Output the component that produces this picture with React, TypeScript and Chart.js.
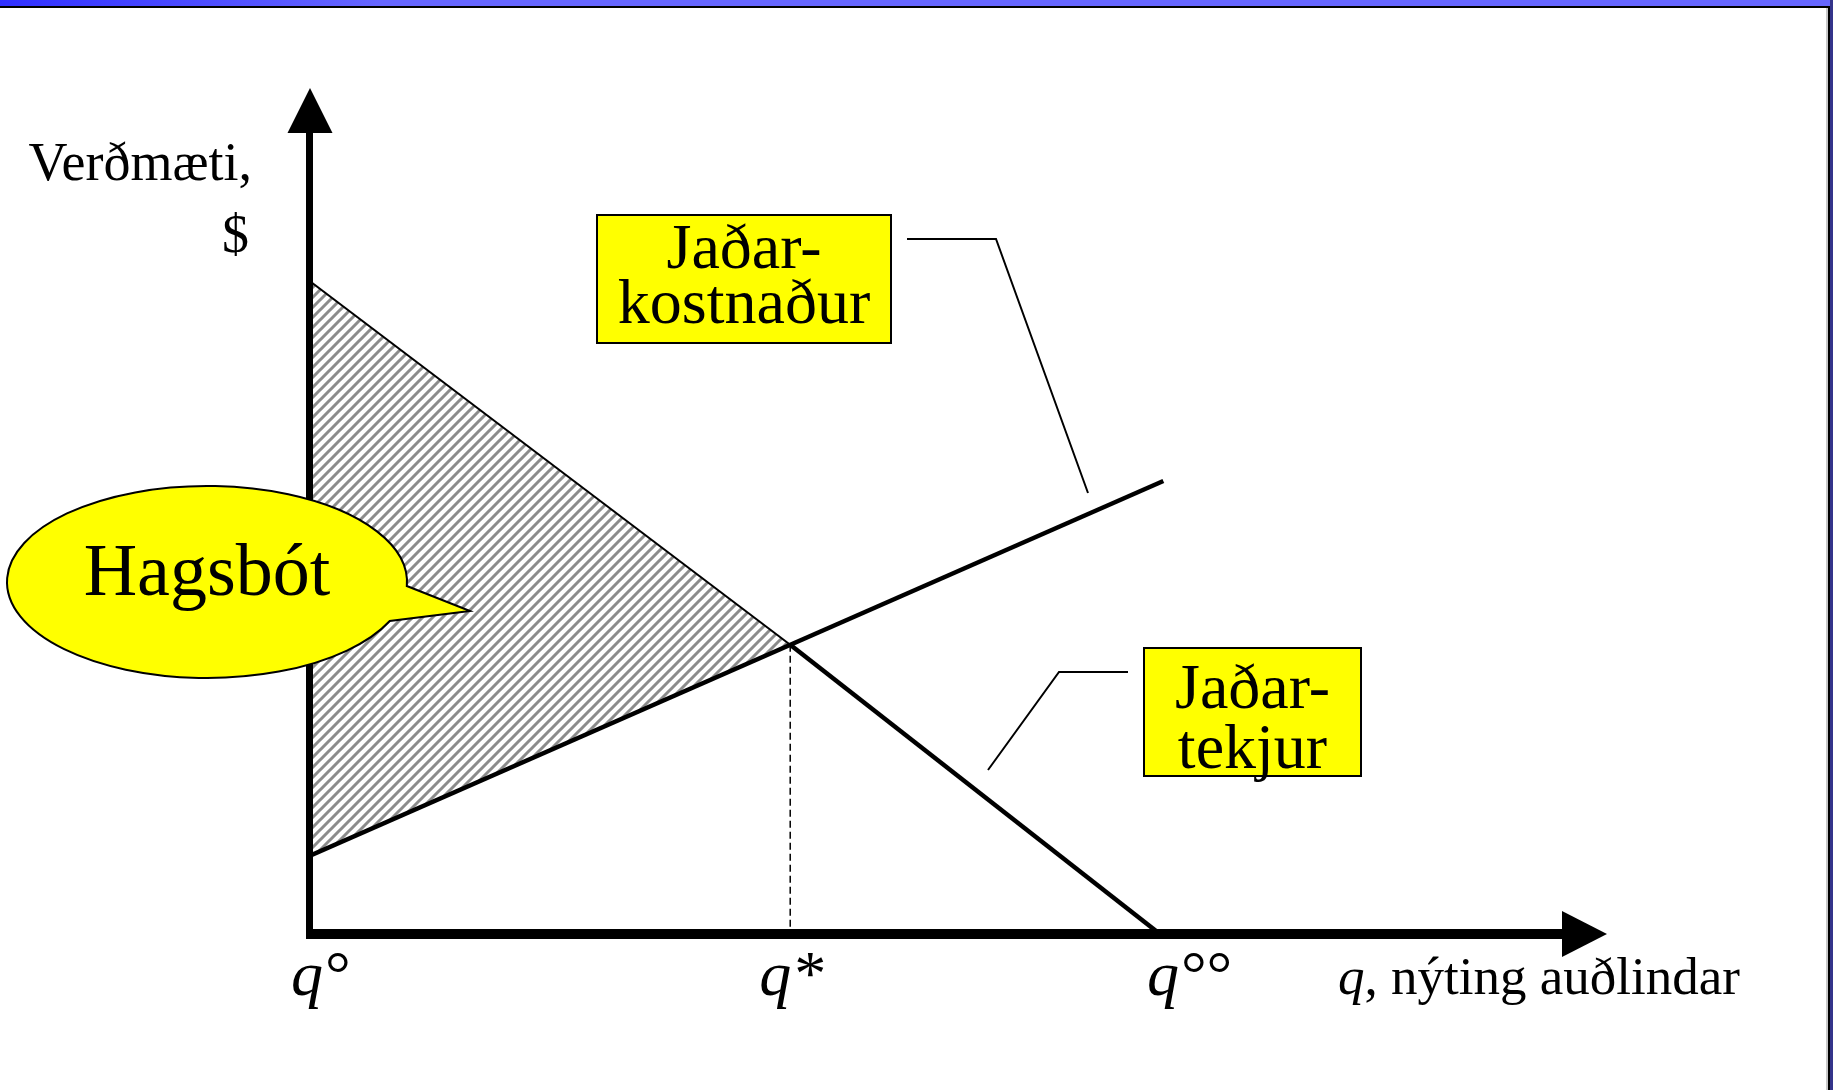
import React, { useEffect, useRef } from 'react';
import { Chart, registerables } from 'chart.js';

Chart.register(...registerables);

const W = 1833;
const H = 1090;
const SERIF = '"Liberation Serif", "Times New Roman", serif';

// ---- Data (q° = 0, q°° = 100 on the resource axis; value axis: MR intercept = 100) ----
const tickValues = [0, 56.5, 100];
const tickLabels = ['q°', 'q*', 'q°°'];
const tickLabelNudge = [0, -12, 6];

const mrUpperX = [0, 56.5];
const mrUpperY = [100, 44.3];
const mrLowerX = [56.5, 100];
const mrLowerY = [44.3, 0];

const mcX = [0, 100.4];
const mcY = [12, 69.4];

const surplusX = [0, 56.5, 0];
const surplusY = [100, 44.3, 12];

const qStarLineX = [56.5, 56.5];
const qStarLineY = [44.3, 0];

const xMax = 152.6;
const yMax = 129.6;

// ---- Texts ----
const yAxisTitle = ['Verðmæti,', '$'];
const xAxisTitleItalic = 'q';
const xAxisTitleRest = ', nýting auðlindar';
const mcLabel = ['Jaðar-', 'kostnaður'];
const mrLabel = ['Jaðar-', 'tekjur'];
const calloutLabel = 'Hagsbót';

const pts = (xs: number[], ys: number[]) => xs.map((x, i) => ({ x, y: ys[i] }));

function makeHatch(): CanvasPattern | string {
  const s = 10;
  const c = document.createElement('canvas');
  c.width = s;
  c.height = s;
  const g = c.getContext('2d');
  if (!g) return '#bbb';
  g.fillStyle = '#ffffff';
  g.fillRect(0, 0, s, s);
  g.strokeStyle = '#8c8c8c';
  g.lineWidth = 3;
  g.beginPath();
  g.moveTo(-1, s + 1);
  g.lineTo(s + 1, -1);
  g.moveTo(-s / 2 - 1, s / 2 + 1);
  g.lineTo(s / 2 + 1, -s / 2 - 1);
  g.moveTo(s / 2 - 1, s * 1.5 + 1);
  g.lineTo(s * 1.5 + 1, s / 2 - 1);
  g.stroke();
  return g.createPattern(c, 'repeat') || '#bbb';
}

const decorPlugin = {
  id: 'decor',
  beforeDraw(chart: any) {
    const ctx: CanvasRenderingContext2D = chart.ctx;
    ctx.save();
    ctx.fillStyle = '#ffffff';
    ctx.fillRect(0, 0, W, H);
    const g = ctx.createLinearGradient(0, 0, 380, 0);
    g.addColorStop(0, '#3030ff');
    g.addColorStop(1, '#6666ff');
    ctx.fillStyle = g;
    ctx.fillRect(0, 0, W, 6);
    ctx.fillStyle = '#000';
    ctx.fillRect(0, 6, W, 2);
    ctx.fillStyle = '#c8c8c8';
    ctx.fillRect(1826, 8, 2, H - 8);
    ctx.fillStyle = '#000';
    ctx.fillRect(1828, 6, 2, H - 6);
    ctx.fillStyle = '#34348a';
    ctx.fillRect(1830, 0, 3, H);
    ctx.restore();
  },
  afterDatasetsDraw(chart: any) {
    const ctx: CanvasRenderingContext2D = chart.ctx;
    const xs = chart.scales.x;
    const ys = chart.scales.y;
    const x0 = xs.getPixelForValue(0);
    const y0 = ys.getPixelForValue(0);
    const xEnd = xs.getPixelForValue(xMax);
    const yEnd = ys.getPixelForValue(yMax);
    ctx.save();

    // axes
    ctx.fillStyle = '#000';
    const head = 45;
    ctx.fillRect(x0 - 4, yEnd + head - 1, 7, y0 + 5 - (yEnd + head - 1));
    ctx.beginPath();
    ctx.moveTo(x0 - 22.5, yEnd + head);
    ctx.lineTo(x0 + 22.5, yEnd + head);
    ctx.lineTo(x0, yEnd);
    ctx.closePath();
    ctx.fill();
    ctx.fillRect(x0 - 3, y0 - 5, xEnd - head - (x0 - 3) + 1, 10);
    ctx.beginPath();
    ctx.moveTo(xEnd - head, y0 - 23);
    ctx.lineTo(xEnd - head, y0 + 23);
    ctx.lineTo(xEnd, y0);
    ctx.closePath();
    ctx.fill();

    // y axis title
    ctx.fillStyle = '#000';
    ctx.textBaseline = 'alphabetic';
    ctx.font = `54px ${SERIF}`;
    ctx.textAlign = 'right';
    ctx.fillText(yAxisTitle[0], 252, 180);
    ctx.fillText(yAxisTitle[1], 249, 252);

    // x ticks
    ctx.font = `italic 64px ${SERIF}`;
    ctx.textAlign = 'left';
    const qW = ctx.measureText('q').width;
    tickValues.forEach((v, i) => {
      const px = xs.getPixelForValue(v);
      ctx.fillText(tickLabels[i], px - qW / 2 - 3 + tickLabelNudge[i], 995);
    });

    // x axis title
    ctx.font = `italic 53px ${SERIF}`;
    const tx = 1338;
    ctx.fillText(xAxisTitleItalic, tx, 994);
    const iw = ctx.measureText(xAxisTitleItalic).width;
    ctx.font = `53px ${SERIF}`;
    ctx.fillText(xAxisTitleRest, tx + iw, 994);

    // leader lines
    ctx.strokeStyle = '#000';
    ctx.lineWidth = 2;
    ctx.beginPath();
    ctx.moveTo(907, 239);
    ctx.lineTo(996, 239);
    ctx.lineTo(1088, 493);
    ctx.moveTo(1128, 672);
    ctx.lineTo(1059, 672);
    ctx.lineTo(988, 770);
    ctx.stroke();

    // label boxes
    const box = (l: number, t: number, r: number, b: number, lines: string[], base: number[]) => {
      ctx.fillStyle = '#ffff00';
      ctx.fillRect(l, t, r - l, b - t);
      ctx.strokeStyle = '#000';
      ctx.lineWidth = 2;
      ctx.strokeRect(l, t, r - l, b - t);
      ctx.fillStyle = '#000';
      ctx.font = `64px ${SERIF}`;
      ctx.textAlign = 'center';
      lines.forEach((s, i) => ctx.fillText(s, (l + r) / 2, base[i]));
    };
    box(597, 215, 891, 343, mcLabel, [268, 323]);
    box(1144, 648, 1361, 776, mrLabel, [708, 768]);

    // callout ellipse with tail
    const cx = 207, cy = 582, rx = 200, ry = 96;
    const t1 = Math.asin(4 / 96);
    const t2 = Math.asin(39 / 96);
    ctx.beginPath();
    ctx.ellipse(cx, cy, rx, ry, 0, t2, t1 + Math.PI * 2, false);
    ctx.lineTo(470, 611);
    ctx.closePath();
    ctx.fillStyle = '#ffff00';
    ctx.fill();
    ctx.lineWidth = 2;
    ctx.strokeStyle = '#000';
    ctx.stroke();
    ctx.fillStyle = '#000';
    ctx.font = `74px ${SERIF}`;
    ctx.textAlign = 'center';
    ctx.fillText(calloutLabel, 207, 595);

    ctx.restore();
  },
};

export default function App() {
  const ref = useRef<HTMLCanvasElement | null>(null);
  useEffect(() => {
    document.body.style.margin = '0';
    const canvas = ref.current;
    if (!canvas) return;
    const hatch = makeHatch();
    const chart = new Chart(canvas, {
      type: 'line',
      data: {
        datasets: [
          {
            data: pts(surplusX, surplusY),
            borderColor: 'rgba(0,0,0,0)',
            borderWidth: 0,
            backgroundColor: hatch as any,
            fill: 'shape' as any,
            pointRadius: 0,
            tension: 0,
            order: 10,
          },
          {
            data: pts(mcX, mcY),
            borderColor: '#000',
            borderWidth: 4.5,
            pointRadius: 0,
            fill: false,
            order: 1,
          },
          {
            data: pts(mrUpperX, mrUpperY),
            borderColor: '#000',
            borderWidth: 2,
            pointRadius: 0,
            fill: false,
            order: 1,
          },
          {
            data: pts(mrLowerX, mrLowerY),
            borderColor: '#000',
            borderWidth: 4.5,
            pointRadius: 0,
            fill: false,
            order: 1,
          },
          {
            data: pts(qStarLineX, qStarLineY),
            borderColor: '#000',
            borderWidth: 1.5,
            borderDash: [7, 4],
            pointRadius: 0,
            fill: false,
            order: 2,
          },
        ],
      },
      options: {
        responsive: false,
        animation: false,
        devicePixelRatio: 1,
        layout: { padding: { left: 310, right: W - 1607, top: 88, bottom: H - 934 } },
        scales: {
          x: { type: 'linear', min: 0, max: xMax, display: false },
          y: { type: 'linear', min: 0, max: yMax, display: false },
        },
        plugins: { legend: { display: false }, tooltip: { enabled: false } },
        events: [],
      },
      plugins: [decorPlugin],
    });
    return () => chart.destroy();
  }, []);
  return (
    <div style={{ width: W, height: H, position: 'relative' }}>
      <canvas ref={ref} width={W} height={H} style={{ display: 'block', width: W, height: H }} />
    </div>
  );
}
